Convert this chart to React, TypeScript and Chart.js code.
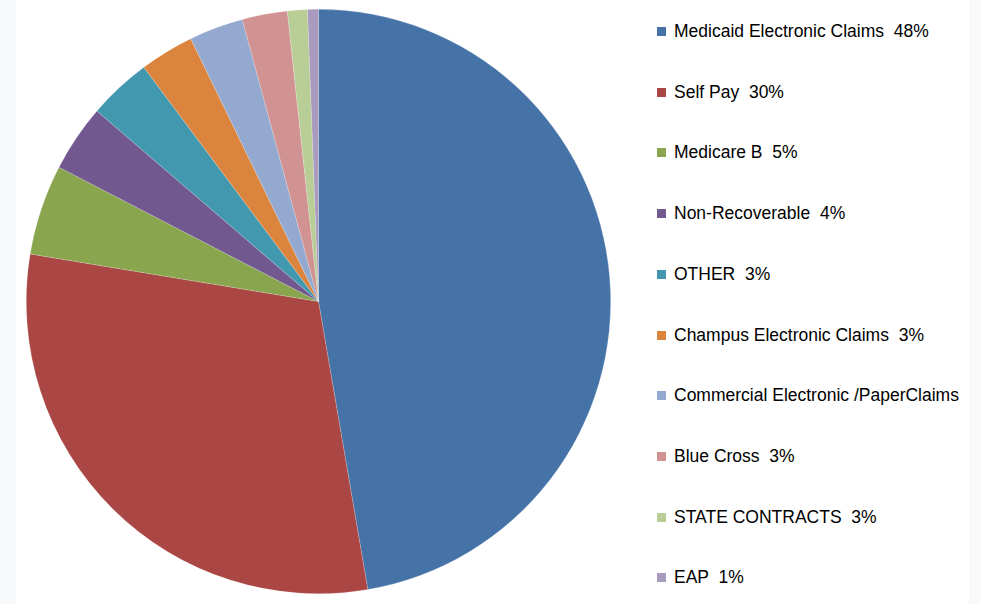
import React, { useEffect, useRef } from "react";
import { Chart, registerables } from "chart.js";

Chart.register(...registerables);

const categories = [
  "Medicaid Electronic Claims",
  "Self Pay",
  "Medicare B",
  "Non-Recoverable",
  "OTHER",
  "Champus Electronic Claims",
  "Commercial Electronic /PaperClaims",
  "Blue Cross",
  "STATE CONTRACTS",
  "EAP",
];
const shares = [47.3, 30.3, 5.0, 3.7, 3.5, 3.0, 3.0, 2.5, 1.1, 0.6];
const pctLabels = ["48%", "30%", "5%", "4%", "3%", "3%", "", "3%", "3%", "1%"];
const colors = [
  "#4572A7",
  "#AA4643",
  "#89A54E",
  "#71588F",
  "#4198AF",
  "#DB843D",
  "#93A9CF",
  "#D19392",
  "#B9CD96",
  "#A99BBD",
];

export default function App() {
  const ref = useRef<HTMLCanvasElement | null>(null);

  useEffect(() => {
    if (!ref.current) return;
    const chart = new Chart(ref.current, {
      type: "pie",
      data: {
        labels: categories,
        datasets: [
          {
            data: shares,
            backgroundColor: colors,
            borderColor: "rgba(255,255,255,0.3)",
            borderWidth: 0.6,
          },
        ],
      },
      options: {
        animation: false,
        responsive: true,
        maintainAspectRatio: false,
        layout: { padding: 0 },
        plugins: {
          legend: { display: false },
          tooltip: { enabled: false },
        },
      },
    });
    return () => chart.destroy();
  }, []);

  return (
    <div
      style={{
        position: "fixed",
        left: 0,
        top: 0,
        width: 981,
        height: 604,
        background: "#f8f9fb",
        overflow: "hidden",
      }}
    >
      <div
        style={{
          position: "absolute",
          left: 16,
          top: 0,
          width: 953,
          height: 604,
          background: "#ffffff",
        }}
      />
      <div
        style={{
          position: "absolute",
          left: 26,
          top: 9,
          width: 585,
          height: 585,
        }}
      >
        <canvas ref={ref} />
      </div>
      {categories.map((c, i) => (
        <div
          key={c}
          style={{
            position: "absolute",
            left: 657,
            top: 31.5 + i * 60.7 - 12,
            height: 24,
            display: "flex",
            alignItems: "center",
            fontFamily: "'Liberation Sans', Arial, sans-serif",
            fontSize: 17.5,
            color: "#000",
            whiteSpace: "pre",
          }}
        >
          <span
            style={{
              display: "inline-block",
              width: 9,
              height: 9,
              background: colors[i],
              marginRight: 8,
            }}
          />
          <span>{pctLabels[i] ? `${c}  ${pctLabels[i]}` : c}</span>
        </div>
      ))}
    </div>
  );
}
